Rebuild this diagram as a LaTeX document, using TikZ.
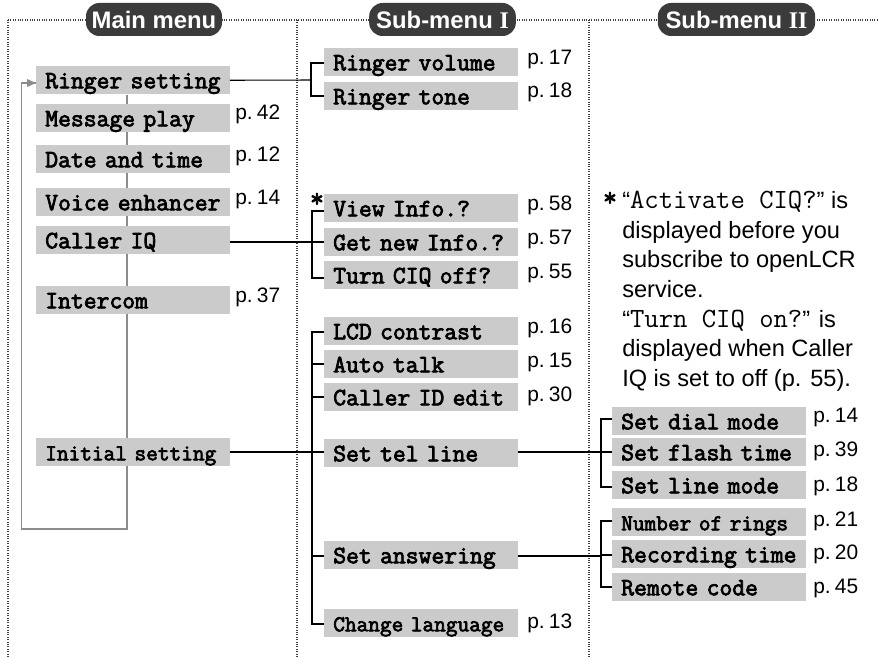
\documentclass[tikz,border=0pt]{standalone}
\usepackage{fontspec}
\setmainfont{Liberation Sans}
\newfontfamily\serifb{Liberation Serif}
\newfontfamily\pgfont[WordSpace=0.4]{Liberation Sans}
\newfontfamily\mbf[FakeBold=3]{Latin Modern Mono}
\usetikzlibrary{backgrounds,arrows.meta}
\definecolor{boxgray}{HTML}{CBCBCB}
\definecolor{pilldark}{HTML}{3B3B3B}
\definecolor{trunkgray}{HTML}{8C8C8C}
\newcommand\lbl[1]{\hspace*{6.75pt}#1}
\tikzset{
  x=0.75pt,y=-0.75pt,
  menubox/.style={fill=boxgray,draw=none,anchor=north west,inner xsep=0pt,inner ysep=0pt,minimum height=21pt,text height=16pt,text depth=4pt,text width=145pt,align=left,font=\fontsize{18.7}{18.7}\selectfont\mbf},
  widebox/.style={menubox,font=\fontsize{17}{17}\selectfont\mbf},
  pg/.style={anchor=west,inner sep=0pt,yshift=-1.5pt,font=\fontsize{15.7}{16}\selectfont\pgfont},
  pill/.style={fill=pilldark,rounded corners=10pt,text=white,inner sep=0pt,minimum height=24.75pt,font=\fontsize{17.9}{17.9}\selectfont\bfseries},
  guide/.style={densely dotted,line width=0.8pt,black!75},
  link/.style={line width=0.8pt,black},
  trunk/.style={line width=0.8pt,trunkgray},
  star/.style={inner sep=0pt,font=\fontsize{20}{20}\selectfont\mbf},
}
\begin{document}
\begin{tikzpicture}
\useasboundingbox (0,0) rectangle (879,660);
% guides
\coordinate (gl) at (8,20); \coordinate (gr) at (879,20);
\coordinate (g1) at (8,658); \coordinate (g2) at (297,658); \coordinate (g3) at (589,658);
\draw[guide] (gl) -- (gr);
\draw[guide] (gl) -- (g1);
\draw[guide] (297,20) -- (g2);
\draw[guide] (589,20) -- (g3);
% pills
\node[pill,minimum width=102pt] (hmain) at (154,19.5) {Main menu};
\node[pill,minimum width=110pt] (hsub1) at (442.5,19.5) {Sub-menu {\serifb\bfseries I}};
\node[pill,minimum width=118pt] (hsub2) at (736.5,19.5) {Sub-menu {\serifb\bfseries II}};
% main menu
\node[menubox] (ringer) at (36,66) {\lbl{Ringer setting}};
\node[menubox] (msg) at (36,104) {\lbl{Message play}};
\node[menubox] (date) at (36,145) {\lbl{Date and time}};
\node[menubox] (voice) at (36,188) {\lbl{Voice enhancer}};
\node[menubox] (caller) at (36,226) {\lbl{Caller IQ}};
\node[menubox] (intercom) at (36,286) {\lbl{Intercom}};
\node[widebox] (initial) at (36,438) {\lbl{Initial setting}};
% sub-menu I
\node[menubox] (rvol) at (324,48) {\lbl{Ringer volume}};
\node[menubox] (rtone) at (324,82) {\lbl{Ringer tone}};
\node[menubox] (view) at (324,194) {\lbl{View Info.?}};
\node[menubox] (getnew) at (324,228) {\lbl{Get new Info.?}};
\node[menubox] (turn) at (324,261) {\lbl{Turn CIQ off?}};
\node[menubox] (lcd) at (324,317) {\lbl{LCD contrast}};
\node[menubox] (auto) at (324,350) {\lbl{Auto talk}};
\node[menubox] (cid) at (324,383) {\lbl{Caller ID edit}};
\node[menubox] (tel) at (324,439) {\lbl{Set tel line}};
\node[menubox] (answ) at (324,541) {\lbl{Set answering}};
\node[widebox] (lang) at (324,609) {\lbl{Change language}};
% sub-menu II
\node[menubox] (dial) at (612,407) {\lbl{Set dial mode}};
\node[menubox] (flash) at (612,438) {\lbl{Set flash time}};
\node[menubox] (line) at (612,471) {\lbl{Set line mode}};
\node[widebox] (rings) at (612,508) {\lbl{Number of rings}};
\node[menubox] (rec) at (612,540) {\lbl{Recording time}};
\node[menubox] (code) at (612,573) {\lbl{Remote code}};
% pages
\node[pg] (p42) at (235,112) {p. 42};
\node[pg] (p12) at (235,154) {p. 12};
\node[pg] (p14a) at (235,197) {p. 14};
\node[pg] (p37) at (235,295) {p. 37};
\node[pg] (p17) at (527,57) {p. 17};
\node[pg] (p18a) at (527,90) {p. 18};
\node[pg] (p58) at (527,203) {p. 58};
\node[pg] (p57) at (527,237) {p. 57};
\node[pg] (p55) at (527,271) {p. 55};
\node[pg] (p16) at (527,326) {p. 16};
\node[pg] (p15) at (527,360) {p. 15};
\node[pg] (p30) at (527,394) {p. 30};
\node[pg] (p13) at (527,621) {p. 13};
\node[pg] (p14b) at (813,415) {p. 14};
\node[pg] (p39) at (813,449) {p. 39};
\node[pg] (p18b) at (813,484) {p. 18};
\node[pg] (p21) at (813,519) {p. 21};
\node[pg] (p20) at (813,552) {p. 20};
\node[pg] (p45) at (813,586) {p. 45};
% stars and note
\node[star] (s1) at (317,200) {*};
\node[star] (s2) at (610,199) {*};
\node[anchor=north west,inner sep=0pt,align=left,font=\fontsize{17.7}{22.2}\selectfont] (note) at (622,191) {%
“{\fontsize{20.9}{22.2}\selectfont\ttfamily Activate CIQ?}” is\\
displayed before you\\
subscribe to openLCR\\
service.\\
“{\fontsize{20.9}{22.2}\selectfont\ttfamily Turn CIQ on?}” is\\
displayed when Caller\\
IQ is set to off (p. 55).};
% connectors
\coordinate (t1) at (311,80);
\coordinate (t2) at (312,242);
\coordinate (t3) at (312,452);
\coordinate (t4) at (601,452);
\coordinate (t5) at (601,555);
\coordinate (rv) at (311,63); \coordinate (rt) at (311,96);
\coordinate (vw) at (312,211); \coordinate (tn) at (312,278);
\coordinate (lc) at (312,332); \coordinate (au) at (312,364); \coordinate (ci) at (312,397);
\coordinate (an) at (312,556); \coordinate (la) at (312,624);
\coordinate (di) at (601,419); \coordinate (li) at (601,487);
\coordinate (ri) at (601,521); \coordinate (co) at (601,587);
\draw[link] (ringer.east) -- (t1);
\draw[link] (rvol.west |- rv) -- (rv) -- (rt) -- (rtone.west |- rt);
\draw[link] (caller.east |- t2) -- (getnew.west |- t2);
\draw[link] (view.west |- vw) -- (vw) -- (tn) -- (turn.west |- tn);
\draw[link] (initial.east |- t3) -- (tel.west |- t3);
\draw[link] (lcd.west |- lc) -- (lc) -- (la) -- (lang.west |- la);
\draw[link] (auto.west |- au) -- (au);
\draw[link] (cid.west |- ci) -- (ci);
\draw[link] (answ.west |- an) -- (an);
\draw[link] (tel.east |- t4) -- (flash.west |- t4);
\draw[link] (dial.west |- di) -- (di) -- (li) -- (line.west |- li);
\draw[link] (answ.east |- an) -- (an -| t5);
\draw[link] (t5 |- an) -- (t5);
\draw[link] (t5) -- (rec.west |- t5);
\draw[link] (rings.west |- ri) -- (ri) -- (co) -- (code.west |- co);
\begin{scope}[on background layer]
\coordinate (lb) at (21.5,529);
\coordinate (rb) at (127,529);
\coordinate (ar) at (36,83);
\draw[trunk] (ringer.south -| rb) -- (rb) -- (lb) |- (ar);
\fill[trunkgray] (ar) -- ++(-9,-4) -- ++(0,8) -- cycle;
\end{scope}
\end{tikzpicture}
\end{document}
